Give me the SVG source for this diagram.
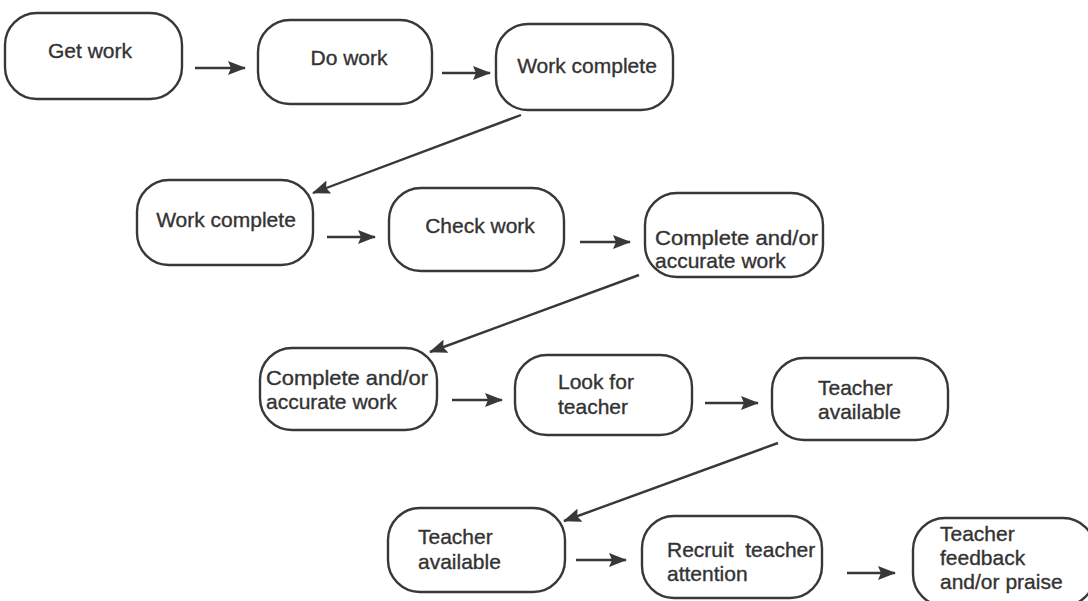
<svg xmlns="http://www.w3.org/2000/svg" width="1088" height="601" viewBox="0 0 1088 601">
<style>
.box{fill:#fff;stroke:#383838;stroke-width:2.4}
.t{font-family:"Liberation Sans",Arial,sans-serif;font-size:21px;fill:#333;stroke:#333;stroke-width:0.35}
.c{text-anchor:middle}
.e{stroke:#383838;stroke-width:2.4;fill:none}
</style>
<defs>
<marker id="ah" viewBox="0 0 18 14" refX="17" refY="7" markerWidth="18" markerHeight="14" markerUnits="userSpaceOnUse" orient="auto">
<path d="M0,0 L18,7 L0,14 L3,7 Z" fill="#383838"/>
</marker>
</defs>
<rect width="1088" height="601" fill="#fff"/>
<g id="n1"><rect class="box" x="5" y="13" width="177" height="86" rx="32"/><text class="t c" x="90" y="58">Get work</text></g>
<g id="n2"><rect class="box" x="258" y="20" width="174" height="84" rx="32"/><text class="t c" x="349" y="65">Do work</text></g>
<g id="n3"><rect class="box" x="496" y="24" width="177" height="86" rx="32"/><text class="t c" x="587" y="73">Work complete</text></g>
<g id="n4"><rect class="box" x="137" y="180" width="176" height="85" rx="32"/><text class="t c" x="226" y="227">Work complete</text></g>
<g id="n5"><rect class="box" x="389" y="188" width="175" height="83" rx="32"/><text class="t c" x="480" y="233">Check work</text></g>
<g id="n6"><rect class="box" x="645" y="193" width="178" height="84" rx="32"/><text class="t" x="655" y="245" textLength="163" lengthAdjust="spacingAndGlyphs">Complete and/or</text><text class="t" x="655" y="268">accurate work</text></g>
<g id="n7"><rect class="box" x="260" y="348" width="177" height="82" rx="32"/><text class="t" x="266" y="385" textLength="162" lengthAdjust="spacingAndGlyphs">Complete and/or</text><text class="t" x="266" y="409">accurate work</text></g>
<g id="n8"><rect class="box" x="515" y="355" width="177" height="80" rx="32"/><text class="t" x="558" y="389">Look for</text><text class="t" x="558" y="414">teacher</text></g>
<g id="n9"><rect class="box" x="772" y="358" width="176" height="82" rx="32"/><text class="t" x="818" y="395">Teacher</text><text class="t" x="818" y="419">available</text></g>
<g id="n10"><rect class="box" x="388" y="508" width="177" height="84" rx="32"/><text class="t" x="418" y="544">Teacher</text><text class="t" x="418" y="569">available</text></g>
<g id="n11"><rect class="box" x="642" y="516" width="180" height="82" rx="32"/><text class="t" x="667" y="557" xml:space="preserve">Recruit  teacher</text><text class="t" x="667" y="581">attention</text></g>
<g id="n12"><rect class="box" x="913" y="518" width="182" height="88" rx="32"/><text class="t" x="940" y="541">Teacher</text><text class="t" x="940" y="565">feedback</text><text class="t" x="940" y="589">and/or praise</text></g>
<g id="connectors">
<line class="e" x1="195" y1="68" x2="245" y2="68" marker-end="url(#ah)"/>
<line class="e" x1="442" y1="73" x2="490" y2="73" marker-end="url(#ah)"/>
<line class="e" x1="521" y1="115" x2="313" y2="193" marker-end="url(#ah)"/>
<line class="e" x1="327" y1="237" x2="375" y2="237" marker-end="url(#ah)"/>
<line class="e" x1="580" y1="242" x2="630" y2="242" marker-end="url(#ah)"/>
<line class="e" x1="639" y1="275" x2="430" y2="352" marker-end="url(#ah)"/>
<line class="e" x1="452" y1="400" x2="502" y2="400" marker-end="url(#ah)"/>
<line class="e" x1="705" y1="403" x2="758" y2="403" marker-end="url(#ah)"/>
<line class="e" x1="778" y1="443" x2="564" y2="521" marker-end="url(#ah)"/>
<line class="e" x1="576" y1="560" x2="626" y2="560" marker-end="url(#ah)"/>
<line class="e" x1="847" y1="573" x2="895" y2="573" marker-end="url(#ah)"/>
</g>
</svg>
